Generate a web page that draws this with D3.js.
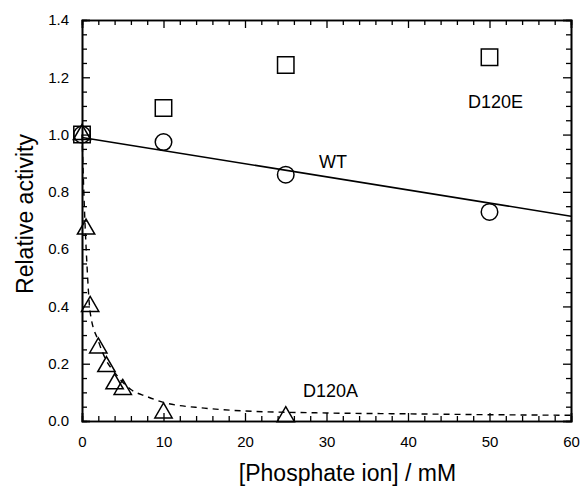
<!DOCTYPE html>
<html>
<head>
<meta charset="utf-8">
<script src="https://cdn.jsdelivr.net/npm/d3@7"></script>
<style>
  body { margin: 0; background: #fff; }
  text { font-family: "Liberation Sans", Arial, sans-serif; fill: #000; }
</style>
</head>
<body>
<svg width="585" height="490"></svg>
<script>
// Data
var wtX = [0, 10, 25, 50];
var wtY = [1.0, 0.974, 0.86, 0.73];
var wtFitX = [0, 60];
var wtFitY = [0.99, 0.715];

var eX = [0, 10, 25, 50];
var eY = [1.0, 1.093, 1.243, 1.27];

var aX = [0, 0.5, 1, 2, 3, 4, 5, 10, 25];
var aY = [1.0, 0.67, 0.40, 0.255, 0.19, 0.13, 0.11, 0.028, 0.015];
var aFitX = [0, 0.3, 0.6, 1, 2, 3, 4, 5, 6, 8, 10, 15, 20, 30, 40, 50, 60];
var aFitY = [1.0, 0.74, 0.55, 0.38, 0.28, 0.21, 0.17, 0.135, 0.11, 0.085, 0.065, 0.045, 0.035, 0.028, 0.025, 0.022, 0.02];

var xMajor = [0, 10, 20, 30, 40, 50, 60];
var yMajor = [0, 0.2, 0.4, 0.6, 0.8, 1.0, 1.2, 1.4];

var svg = d3.select("svg"),
  plotL = 82, plotR = 571, plotT = 20, plotB = 421;

var x = d3.scaleLinear().domain([0, 60]).range([plotL, plotR]);
var y = d3.scaleLinear().domain([0, 1.4]).range([plotB, plotT]);

// minor ticks
var xMinor = d3.range(0, 61, 2).filter(function (v) { return v % 10 !== 0; });
var yMinor = d3.range(0, 29).map(function (i) { return +(i * 0.05).toFixed(2); })
  .filter(function (v) { return Math.abs(v * 5 - Math.round(v * 5)) > 1e-6; });

var g = svg.append("g");

// axes: inward ticks on all four sides
g.append("g").attr("transform", "translate(0," + plotB + ")")
  .call(d3.axisBottom(x).tickValues(xMajor).tickSize(-8).tickPadding(15).tickFormat(d3.format("d")));
g.append("g").attr("transform", "translate(0," + plotB + ")")
  .call(d3.axisBottom(x).tickValues(xMinor).tickSize(-5).tickFormat(""));
g.append("g").attr("transform", "translate(0," + plotT + ")")
  .call(d3.axisTop(x).tickValues(xMajor).tickSize(-8).tickFormat(""));
g.append("g").attr("transform", "translate(0," + plotT + ")")
  .call(d3.axisTop(x).tickValues(xMinor).tickSize(-5).tickFormat(""));

g.append("g").attr("transform", "translate(" + plotL + ",0)")
  .call(d3.axisLeft(y).tickValues(yMajor).tickSize(-8).tickPadding(13).tickFormat(d3.format(".1f")));
g.append("g").attr("transform", "translate(" + plotL + ",0)")
  .call(d3.axisLeft(y).tickValues(yMinor).tickSize(-5).tickFormat(""));
g.append("g").attr("transform", "translate(" + plotR + ",0)")
  .call(d3.axisRight(y).tickValues(yMajor).tickSize(-8).tickFormat(""));
g.append("g").attr("transform", "translate(" + plotR + ",0)")
  .call(d3.axisRight(y).tickValues(yMinor).tickSize(-5).tickFormat(""));

g.selectAll(".domain").attr("stroke", "#000").attr("stroke-width", 1.6);
g.selectAll(".tick line").attr("stroke", "#000").attr("stroke-width", 1.3);
g.selectAll(".tick text").style("font-size", "15px").style("font-family", "Liberation Sans, Arial, sans-serif");

// fit lines
var line = d3.line().x(function (d) { return x(d[0]); }).y(function (d) { return y(d[1]); });

svg.append("path")
  .attr("d", line(d3.zip(wtFitX, wtFitY)))
  .attr("fill", "none").attr("stroke", "#000").attr("stroke-width", 1.6);

svg.append("path")
  .attr("d", line.curve(d3.curveMonotoneX)(d3.zip(aFitX, aFitY)))
  .attr("fill", "none").attr("stroke", "#000").attr("stroke-width", 1.4)
  .attr("stroke-dasharray", "6,5");

// markers
function drawPoints(xs, ys, type, size) {
  svg.append("g").selectAll("path")
    .data(d3.zip(xs, ys))
    .enter()
    .append("path")
    .attr("transform", function (d) { return "translate(" + x(d[0]) + "," + y(d[1]) + ")"; })
    .attr("d", d3.symbol().type(type).size(size))
    .attr("fill", "none")
    .attr("stroke", "#000")
    .attr("stroke-width", 1.5);
}
drawPoints(eX, eY, d3.symbolSquare, 270);
drawPoints(wtX, wtY, d3.symbolCircle, 215);
drawPoints(aX, aY, d3.symbolTriangle, 130);

// series labels
svg.append("text").attr("x", 468).attr("y", 108).style("font-size", "18px").text("D120E");
svg.append("text").attr("x", 319).attr("y", 168).style("font-size", "18px").text("WT");
svg.append("text").attr("x", 303).attr("y", 397).style("font-size", "18px").text("D120A");

// axis titles
svg.append("text")
  .attr("x", (plotL + plotR) / 2 + 21).attr("y", 481)
  .attr("text-anchor", "middle").style("font-size", "23px")
  .text("[Phosphate ion] / mM");
svg.append("text")
  .attr("transform", "translate(33," + 214 + ") rotate(-90)")
  .attr("text-anchor", "middle").style("font-size", "23px")
  .text("Relative activity");
</script>
</body>
</html>
